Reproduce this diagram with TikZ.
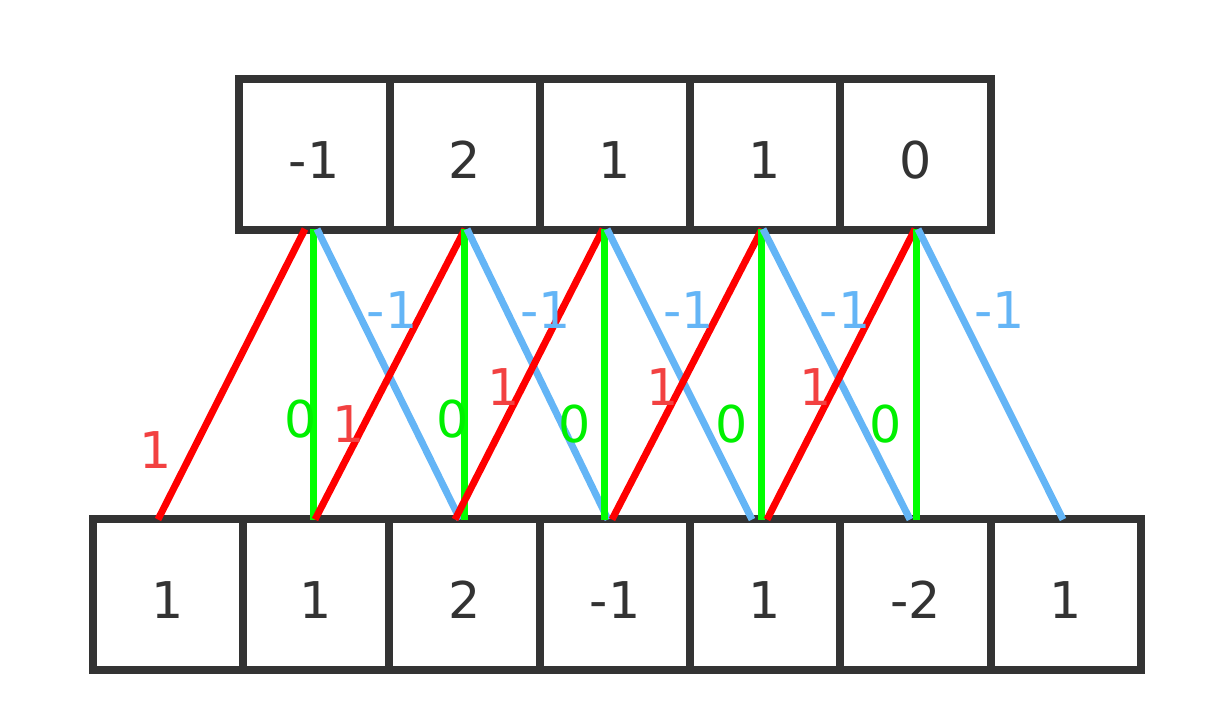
\documentclass[tikz,border=0pt]{standalone}
\usepackage{fontspec}
\setmainfont{DejaVu Sans}
\definecolor{dark}{HTML}{333333}
\definecolor{lred}{HTML}{FF0000}
\definecolor{lgreen}{HTML}{00FF00}
\definecolor{lblue}{HTML}{64B5F6}
\definecolor{tred}{HTML}{F24141}
\definecolor{tgreen}{HTML}{00F000}
\begin{document}
\begin{tikzpicture}[x=0.75pt,y=-0.75pt,
  cell/.style={draw=dark, line width=6pt, inner sep=0pt, minimum height=112.875pt,
    text=dark, font=\fontsize{38}{40}\selectfont, text height=36.7pt, text depth=0pt},
  wire/.style={line width=5.25pt},
  redw/.style={wire, draw=lred},
  greenw/.style={wire, draw=lgreen},
  bluew/.style={wire, draw=lblue},
  lab/.style={anchor=base, inner sep=0pt, font=\fontsize{38}{40}\selectfont}
]
\useasboundingbox (0,0) rectangle (1213,713);
% top row
\foreach \n/\x/\w/\t in {1/314.25/150.5/-1, 2/464.75/150.5/2, 3/615/150/1, 4/765/150/1, 5/915.5/151/0}
  \node[cell, minimum width=\w*0.75pt] (t\n) at (\x,154.25) {\t};
% bottom row
\foreach \n/\x/\w/\t in {1/167.75/150.5/1, 2/316/146/1, 3/464.5/151/2, 4/615/150/-1, 5/765/150/1, 6/915.5/151/-2, 7/1066/150/1}
  \node[cell, minimum width=\w*0.75pt] (b\n) at (\x,594.25) {\t};
% line end points
\foreach \n/\x in {1/305, 2/465, 3/603, 4/762, 5/915} \coordinate (rt\n) at (\x,229);
\foreach \n/\x in {1/158, 2/315, 3/455, 4/612, 5/767} \coordinate (rb\n) at (\x,519.5);
\foreach \n/\x in {1/313.5, 2/464, 3/604, 4/761, 5/916} {
  \coordinate (gt\n) at (\x,229);
  \coordinate (gb\n) at (\x,519.5);
}
\foreach \n/\x in {1/317, 2/467, 3/607, 4/763, 5/918} \coordinate (bt\n) at (\x,229);
\foreach \n/\x in {1/460, 2/608, 3/752, 4/910, 5/1063} \coordinate (bb\n) at (\x,519.5);
% connectors
\foreach \n in {1,...,5} {
  \draw[redw] (rt\n) -- (rb\n);
  \draw[greenw] (gt\n) -- (gb\n);
  \draw[bluew] (bt\n) -- (bb\n);
}
% labels
\foreach \n/\x/\y in {1/156/468, 2/349/442, 3/504/405.5, 4/662.5/405.5, 5/816/405}
  \node[lab, text=tred] (lr\n) at (\x,\y) {1};
\foreach \n/\x/\y in {1/301/437, 2/452.5/437, 3/574.5/442, 4/731.5/442, 5/885.5/442}
  \node[lab, text=tgreen] (lg\n) at (\x,\y) {0};
\foreach \n/\x in {1/392, 2/545.5, 3/688.5, 4/845, 5/999.5}
  \node[lab, text=lblue] (lb\n) at (\x,328) {-1};
\end{tikzpicture}
\end{document}
